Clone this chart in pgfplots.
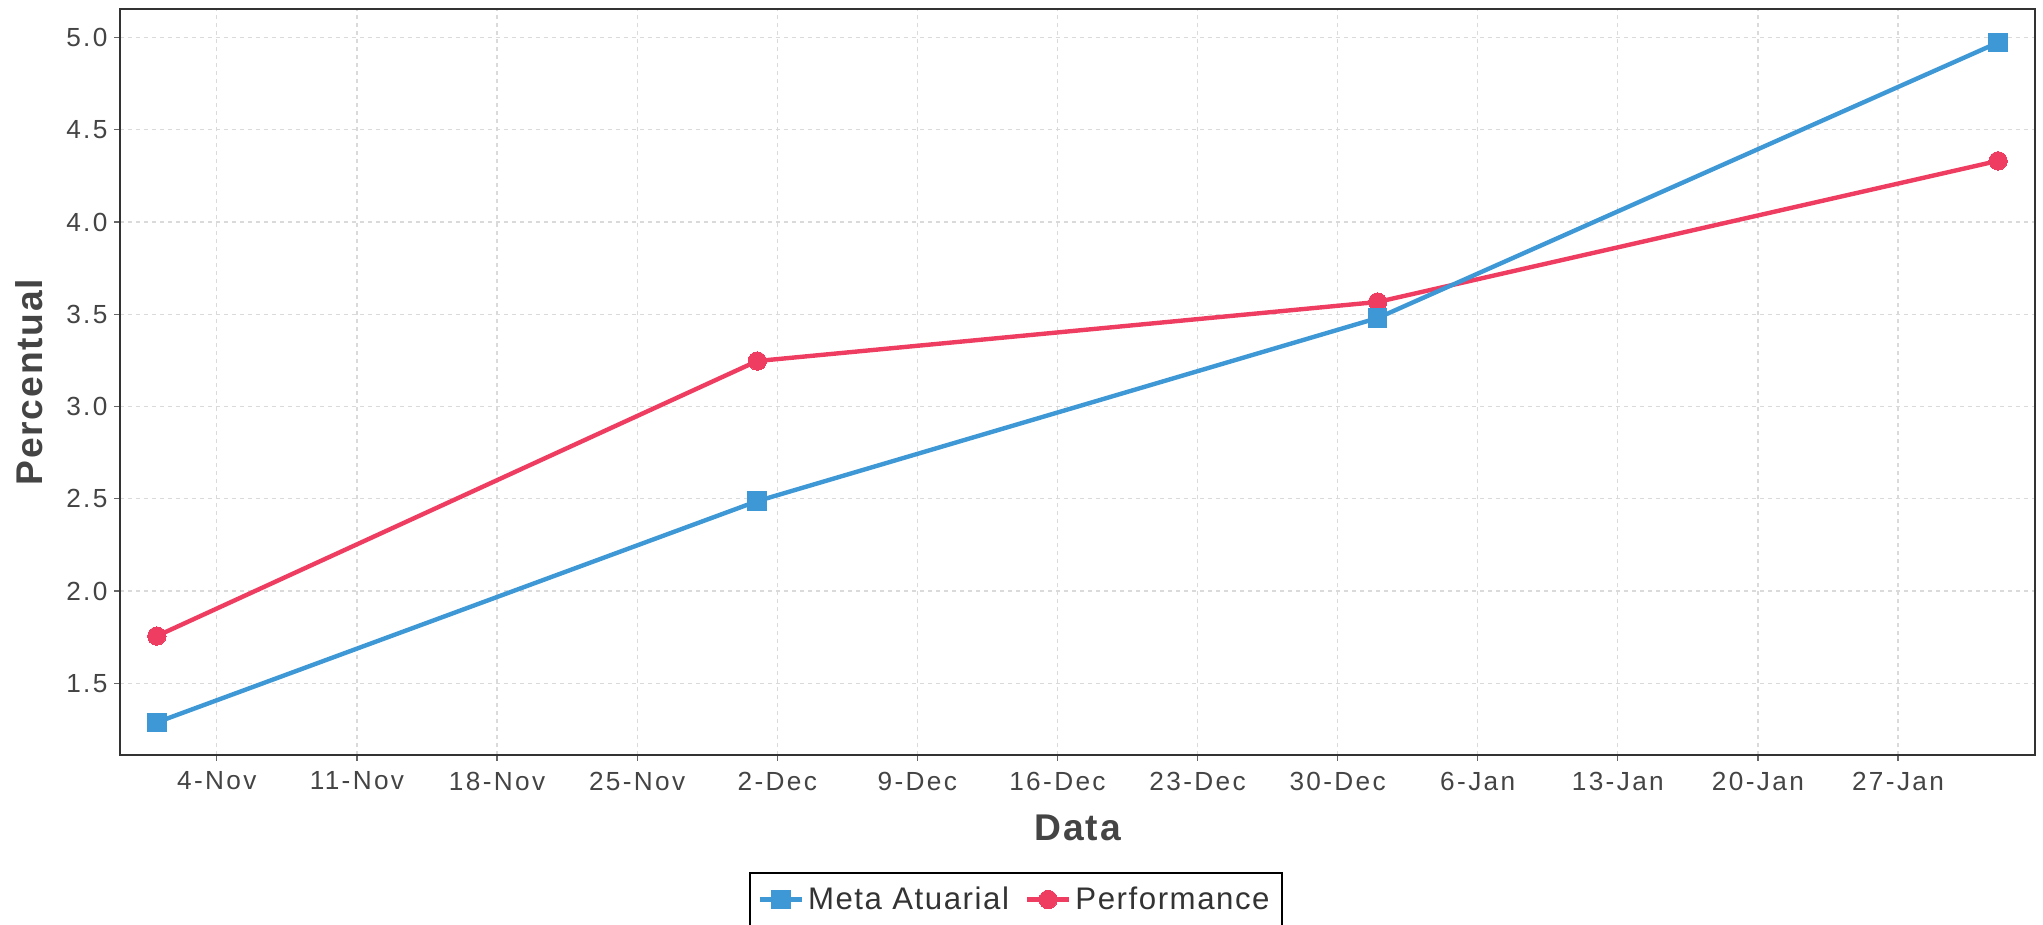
\documentclass[border=0pt]{standalone}
\usepackage{fontspec}
\setmainfont{Liberation Sans}
\newfontfamily\tickfont[LetterSpace=9]{Liberation Sans}
\newfontfamily\legfont[LetterSpace=5]{Liberation Sans}
\newfontfamily\labfont[LetterSpace=5]{Liberation Sans}
\usepackage{pgfplots}
\pgfplotsset{compat=1.18}
\definecolor{cblue}{HTML}{3E98D5}
\definecolor{cred}{HTML}{EE3D60}
\definecolor{txt}{HTML}{444444}
\definecolor{gridc}{HTML}{DADADA}
\pgfplotsset{
  blueline/.style={cblue, line width=2.2pt, mark=square*, mark size=4.65pt, mark options={solid, fill=cblue, draw=cblue, line width=0pt}},
  redline/.style={cred, line width=2.2pt, mark=*, mark size=4.6pt, mark options={solid, fill=cred, draw=cred, line width=0pt}},
}
\begin{document}
\begin{tikzpicture}
\begin{axis}[
  scale only axis, width=957.65pt, height=373.15pt,
  xmin=-1.84, xmax=93.86, ymin=1.11, ymax=5.155,
  xtick={3,10,...,87},
  xticklabels={4-Nov,11-Nov,18-Nov,25-Nov,2-Dec,9-Dec,16-Dec,23-Dec,30-Dec,6-Jan,13-Jan,20-Jan,27-Jan},
  ytick={1.5,2,2.5,3,3.5,4,4.5,5},
  /pgf/number format/assume math mode=true,
  y tick label style={/pgf/number format/fixed, /pgf/number format/fixed zerofill, /pgf/number format/precision=1},
  tick label style={font=\tickfont\fontsize{13.1}{15}\selectfont, text=txt},
  x tick label style={yshift=-2pt},
  tick align=outside, major tick length=2.75pt,
  tick style={color=black!60, line width=0.6pt},
  xtick pos=bottom, ytick pos=left,
  grid=major, major grid style={gridc, line width=0.6pt, dash pattern=on 2.2pt off 1.8pt},
  axis line style={color=black!80, line width=1pt},
  xlabel={Data}, ylabel={Percentual},
  label style={font=\labfont\bfseries\fontsize{18.6}{22}\selectfont, text=txt},
  x label style={at={(axis description cs:0.5,-0.0978)}, anchor=center},
  y label style={at={(axis description cs:-0.0476,0.5)}, anchor=center},
  legend columns=2,
  legend style={at={(axis description cs:0.4676,0)}, anchor=north, yshift=-58.2pt,
    draw=black, line width=1pt, font=\legfont\fontsize{15.6}{18}\selectfont, text=black!80,
    /tikz/every even column/.append style={column sep=6pt}, inner xsep=4pt, inner ysep=5pt},
  legend image code/.code={\draw[mark repeat=2,mark phase=2] plot coordinates {(0pt,0pt) (10.5pt,0pt) (21pt,0pt)};},
]
\addlegendimage{blueline}
\addlegendimage{redline}
\addplot[redline, forget plot] coordinates {(0,1.7565) (30,3.247) (61,3.567) (92,4.332)};
\addplot[blueline, forget plot] coordinates {(0,1.2885) (30,2.4875) (61,3.48) (92,4.973)};
\legend{Meta Atuarial, Performance}
\end{axis}
\pgfresetboundingbox
\useasboundingbox (-60pt,-84.85pt) rectangle (961.5pt,377.65pt);
\end{tikzpicture}
\end{document}
